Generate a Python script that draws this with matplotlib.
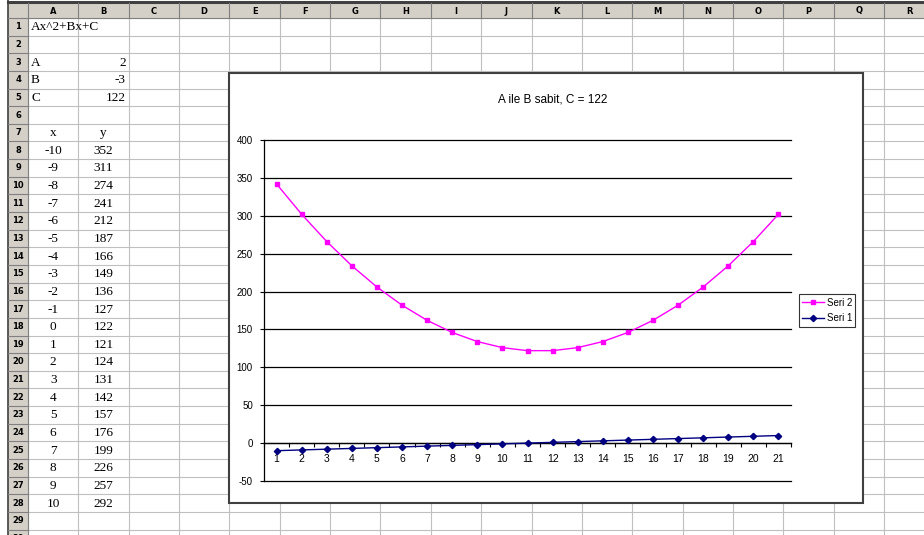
import matplotlib
matplotlib.use('Agg')
import matplotlib.pyplot as plt
from matplotlib.patches import Rectangle

plt.rcParams['axes.unicode_minus'] = False

# sheet data
x_vals = list(range(-10, 11))
y_vals = [352, 311, 274, 241, 212, 187, 166, 149, 136, 127, 122,
          121, 124, 131, 142, 157, 176, 199, 226, 257, 292]
coef_names = ['A', 'B', 'C']
coef_vals = [2, -3, 122]

# chart data
categories = list(range(1, 22))
seri1 = list(range(-10, 11))
seri2 = [342, 302, 266, 234, 206, 182, 162, 146, 134, 126, 122,
         122, 126, 134, 146, 162, 182, 206, 234, 266, 302]
col_letters = list('ABCDEFGHIJKLMNOPQR')

W, H = 924, 535
fig = plt.figure(figsize=(W / 100, H / 100), dpi=100)
bg = fig.add_axes([0, 0, 1, 1])
bg.set_xlim(0, W)
bg.set_ylim(H, 0)
bg.axis('off')

hdr_x0, hdr_x1 = 8, 28
hdr_y0, hdr_y1 = 3, 18
colw, rowh = 50.35, 17.64
hdr_col = '#d4d0c8'
grid_col = '#c0c0c0'

# cell grid
for k in range(0, 31):
    yy = hdr_y1 + k * rowh
    bg.plot([hdr_x1, W], [yy, yy], color=grid_col, lw=0.8, zorder=1)
for k in range(0, 19):
    xx = hdr_x1 + k * colw
    bg.plot([xx, xx], [hdr_y1, H], color=grid_col, lw=0.8, zorder=1)

# headers
bg.add_patch(Rectangle((hdr_x0, hdr_y0), W - hdr_x0, hdr_y1 - hdr_y0, color=hdr_col, lw=0, zorder=2))
bg.add_patch(Rectangle((hdr_x0, hdr_y0), hdr_x1 - hdr_x0, H, color=hdr_col, lw=0, zorder=2))
bg.plot([hdr_x0, W], [1.5, 1.5], color='#404040', lw=2.2, zorder=3)
bg.plot([hdr_x0 - 0.5, hdr_x0 - 0.5], [0, H], color='#404040', lw=1.2, zorder=3)
bg.plot([hdr_x0, W], [hdr_y1, hdr_y1], color='#808080', lw=0.8, zorder=3)
bg.plot([hdr_x1, hdr_x1], [hdr_y0, H], color='#808080', lw=0.8, zorder=3)
for i, c in enumerate(col_letters):
    xx = hdr_x1 + (i + 1) * colw
    bg.plot([xx, xx], [hdr_y0, hdr_y1], color='#808080', lw=0.8, zorder=3)
    bg.text(hdr_x1 + (i + 0.5) * colw, (hdr_y0 + hdr_y1) / 2 + 0.5, c,
            ha='center', va='center', fontsize=6, fontweight='bold',
            family='DejaVu Sans', zorder=4)
for r in range(1, 31):
    yy = hdr_y1 + r * rowh
    bg.plot([hdr_x0, hdr_x1], [yy, yy], color='#808080', lw=0.8, zorder=3)
    bg.text((hdr_x0 + hdr_x1) / 2, hdr_y1 + (r - 0.5) * rowh, str(r),
            ha='center', va='center', fontsize=6, fontweight='bold',
            family='DejaVu Sans', zorder=4)


def cy(row):
    return hdr_y1 + (row - 0.5) * rowh + 0.5


cell_font = dict(fontsize=9.5, family='Liberation Serif', zorder=4)
colA = hdr_x1 + 0.5 * colw
colB = hdr_x1 + 1.5 * colw
bg.text(hdr_x1 + 3, cy(1), 'Ax^2+Bx+C', ha='left', va='center', **cell_font)
for i, (n, v) in enumerate(zip(coef_names, coef_vals)):
    bg.text(hdr_x1 + 3, cy(3 + i), n, ha='left', va='center', **cell_font)
    bg.text(hdr_x1 + 2 * colw - 3, cy(3 + i), str(v), ha='right', va='center', **cell_font)
bg.text(colA, cy(7), 'x', ha='center', va='center', **cell_font)
bg.text(colB, cy(7), 'y', ha='center', va='center', **cell_font)
for i, (xv, yv) in enumerate(zip(x_vals, y_vals)):
    bg.text(colA, cy(8 + i), str(xv), ha='center', va='center', **cell_font)
    bg.text(colB, cy(8 + i), str(yv), ha='center', va='center', **cell_font)

# chart box
bg.add_patch(Rectangle((229, 73), 634, 430, facecolor='white',
                       edgecolor='#404040', lw=1.5, zorder=5))
bg.text(553, 100, 'A ile B sabit, C = 122', ha='center', va='center',
        fontsize=8.5, family='Liberation Sans', zorder=6)

# plot area
px0, px1, py0, py1 = 264, 791, 140, 481
ax = fig.add_axes([px0 / W, (H - py1) / H, (px1 - px0) / W, (py1 - py0) / H])
ax.set_facecolor('none')
ax.set_xlim(0.5, 21.5)
ax.set_ylim(-50, 400)
ax.set_yticks(range(-50, 401, 50))
for v in range(-50, 401, 50):
    ax.axhline(v, color='black', lw=0.9, clip_on=False, zorder=1)
ax.plot(categories, seri2, color='#ff00ff', lw=1, marker='s', ms=3.2,
        label='Seri 2', zorder=3)
ax.plot(categories, seri1, color='#000080', lw=1, marker='D', ms=3.2,
        label='Seri 1', zorder=3)
for s in ['top', 'right']:
    ax.spines[s].set_visible(False)
ax.spines['left'].set_linewidth(0.9)
ax.spines['bottom'].set_position(('data', 0))
ax.spines['bottom'].set_linewidth(0.9)
ax.set_xticks(categories)
ax.set_xticks([c + 0.5 for c in [0] + categories], minor=True)
ax.tick_params(axis='x', which='major', length=0, pad=8, labelsize=7.5)
ax.tick_params(axis='x', which='minor', length=3, width=0.8, direction='out')
ax.tick_params(axis='y', length=3, width=0.8, pad=5, labelsize=7)
for lab in ax.get_xticklabels() + ax.get_yticklabels():
    lab.set_family('Liberation Sans')

leg = ax.legend(loc='center left',
                bbox_to_anchor=(799 / W, (H - 310.5) / H),
                bbox_transform=fig.transFigure, borderaxespad=0,
                fancybox=False, frameon=True, handlelength=2.2,
                prop={'family': 'Liberation Sans', 'size': 7},
                borderpad=0.35, labelspacing=0.55, handletextpad=0.3)
leg.get_frame().set_edgecolor('black')
leg.get_frame().set_linewidth(0.8)

fig.savefig('out.png', dpi=100)
